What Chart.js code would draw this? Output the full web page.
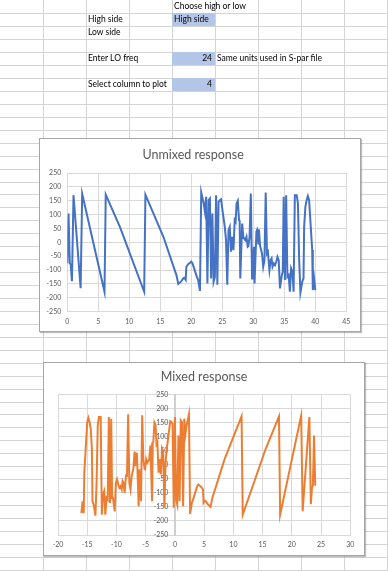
<!DOCTYPE html>
<html lang="en">
<head>
<meta charset="UTF-8">
<title>Unmixed / Mixed response</title>
<script src="https://cdn.jsdelivr.net/npm/chart.js@4.4.1/dist/chart.umd.min.js"></script>
<style>
    body {
        margin: 0;
        width: 388px;
        height: 571px;
        position: relative;
        overflow: hidden;
        background: #fff;
        font-family: Lato, sans-serif;
    }
    #grid { position: absolute; left: 0; top: 0; }
    .cell {
        position: absolute;
        height: 13px;
        line-height: 13px;
        font-size: 8.5px;
        color: #000;
        white-space: nowrap;
    }
    .blue { background: #b4c6e7; }
    .box {
        position: absolute;
        background: #fff;
        border: 1px solid #a6a6a6;
        box-shadow: 1px 1px 1px rgba(0, 0, 0, 0.25);
    }
    .box canvas { display: block; }
</style>
</head>
<body>
<canvas id="grid" width="388" height="571"></canvas>

<div class="cell" style="left:174px; top:0px;">Choose high or low</div>
<div class="cell" style="left:88px; top:13px;">High side</div>
<div class="cell blue" style="left:172px; top:13px; width:43px; padding-left:2px; box-sizing:border-box;">High side</div>
<div class="cell" style="left:88px; top:26px;">Low side</div>
<div class="cell" style="left:88px; top:52px;">Enter LO freq</div>
<div class="cell blue" style="left:172px; top:52px; width:43px; text-align:right; padding-right:3px; box-sizing:border-box;" id="loCell"></div>
<div class="cell" style="left:217px; top:52px;">Same units used in S-par file</div>
<div class="cell" style="left:88px; top:78px;">Select column to plot</div>
<div class="cell blue" style="left:172px; top:78px; width:43px; text-align:right; padding-right:3px; box-sizing:border-box;" id="colCell"></div>

<div class="box" style="left:39px; top:138px;">
    <canvas id="chartRF" width="320" height="192"></canvas>
</div>
<div class="box" style="left:43px; top:362px;">
    <canvas id="chartIF" width="320" height="192"></canvas>
</div>

<script>
    // values
    const loFreq = 24;
    const plotColumn = 4;

    // unmixed (RF) frequency axis
    const rfFreq = [0.0, 0.2, 0.4, 0.55, 0.75, 1.0, 2.15, 2.4, 6.0, 6.2, 8.5, 12.4, 12.6, 15.5,
        17.6, 17.9, 18.4, 18.7, 18.9, 19.1, 19.2, 19.5, 20.0, 20.2, 20.8, 21.1, 21.4, 21.6,
        22.0, 22.2, 22.4, 22.6, 22.8, 23.0, 23.2, 23.4, 23.6, 23.8, 24.0, 24.2, 24.4, 24.6,
        24.8, 25.1, 25.4, 25.6, 25.8, 26.0, 26.2, 26.4, 26.6, 26.8, 27.0, 27.15, 27.3, 27.5,
        27.7, 27.8, 27.9, 28.2, 28.4, 28.7, 28.9, 29.1, 29.2, 29.4, 29.6, 29.8, 29.9, 30.1,
        30.2, 30.5, 30.6, 30.8, 30.9, 31.1, 31.4, 31.6, 31.8, 32.0, 32.2, 32.35, 32.6, 32.8,
        32.95, 33.1, 33.3, 33.5, 33.7, 33.9, 34.1, 34.3, 34.6, 34.75, 34.9, 35.1, 35.3, 35.5,
        35.7, 35.9, 36.1, 36.3, 36.5, 36.7, 37.0, 37.2, 37.4, 37.6, 37.9, 38.1, 38.2, 38.4,
        38.6, 38.8, 39.0, 39.2, 39.5, 39.6, 39.8, 40.0];

    // mixed (IF) frequency axis, same points after the LO
    const ifFreq = [24, 23.8, 23.6, 23.45, 23.25, 23, 21.85, 21.6, 18, 17.8, 15.5, 11.6, 11.4, 8.5,
        6.4, 6.1, 5.6, 5.3, 5.1, 4.9, 4.8, 4.5, 4, 3.8, 3.2, 2.9, 2.6, 2.4,
        2, 1.8, 1.6, 1.4, 1.2, 1, 0.8, 0.6, 0.4, 0.2, 0, -0.2, -0.4, -0.6,
        -0.8, -1.1, -1.4, -1.6, -1.8, -2, -2.2, -2.4, -2.6, -2.8, -3, -3.15, -3.3, -3.5,
        -3.7, -3.8, -3.9, -4.2, -4.4, -4.7, -4.9, -5.1, -5.2, -5.4, -5.6, -5.8, -5.9, -6.1,
        -6.2, -6.5, -6.6, -6.8, -6.9, -7.1, -7.4, -7.6, -7.8, -8, -8.2, -8.35, -8.6, -8.8,
        -8.95, -9.1, -9.3, -9.5, -9.7, -9.9, -10.1, -10.3, -10.6, -10.75, -10.9, -11.1, -11.3, -11.5,
        -11.7, -11.9, -12.1, -12.3, -12.5, -12.7, -13, -13.2, -13.4, -13.6, -13.9, -14.1, -14.2, -14.4,
        -14.6, -14.8, -15, -15.2, -15.5, -15.6, -15.8, -16];

    // column 4 of the S-par file
    const response = [-75, 104, -75, -80, -140, 170, -165, 175, -178, 172, 55, -178, 172, 20,
        -118, -150, -140, -130, -128, -135, -88, -79, -70, -76, -118, -136, -175, 180,
        140, 110, 164, -148, 152, 158, -130, 104, -142, -125, 170, -153, 146, 152,
        155, 104, 56, 8, -153, 44, 56, -34, 20, -28, 80, 74, 140, 150,
        80, 78, -130, 68, 18, 8, 20, -16, -14, 20, 176, -130, -82, -16,
        -148, 38, 44, -4, 47, -13, -40, -88, -64, 180, -40, -34, -100, -64,
        -58, -88, -76, -82, -70, -52, -64, -166, -118, -106, 164, -136, 170, -124,
        -118, -178, -94, -106, -178, 170, 170, 140, -64, -181, -142, -130, 56, 128,
        152, 167, 152, 80, -28, -172, -130, -172];

    const rfTicks = { min: 0, max: 45, step: 5 };
    const ifTicks = { min: -20, max: 30, step: 5 };
    const respTicks = { min: -250, max: 250, step: 50 };

    document.getElementById('loCell').textContent = loFreq;
    document.getElementById('colCell').textContent = plotColumn;

    // spreadsheet grid behind the charts
    function gambarGrid() {
        const g = document.getElementById('grid').getContext('2d');
        g.strokeStyle = '#d4d4d4';
        g.lineWidth = 1;
        g.beginPath();
        for (let k = 0; k < 9; k++) {
            const x = Math.round(43.3 + 42.93 * k) + 0.5;
            g.moveTo(x, 0); g.lineTo(x, 571);
        }
        for (let k = 0; k < 45; k++) {
            const y = Math.round(13.3 + 12.94 * k) + 0.5;
            g.moveTo(0, y); g.lineTo(388, y);
        }
        g.stroke();
    }
    gambarGrid();

    function toPoints(xs, ys) {
        return xs.map((x, i) => ({ x: x, y: ys[i] }));
    }

    Chart.defaults.font.family = 'Lato, sans-serif';
    Chart.defaults.color = '#595959';

    const tickFont = { size: 7 };
    const gridColor = '#d9d9d9';

    // y labels of the mixed chart hug the zero line (left side), under the trace
    const labelDiSumbuNol = {
        id: 'labelDiSumbuNol',
        beforeDatasetsDraw(chart) {
            const ys = chart.scales.y;
            const x0 = chart.scales.x.getPixelForValue(0) - 6.5;
            const ctx = chart.ctx;
            ctx.save();
            ctx.font = '7px Lato, sans-serif';
            ctx.fillStyle = '#595959';
            ctx.textAlign = 'right';
            ctx.textBaseline = 'middle';
            ys.ticks.forEach(t => {
                ctx.fillText(String(t.value), x0, ys.getPixelForValue(t.value));
            });
            ctx.restore();
        }
    };

    new Chart(document.getElementById('chartRF'), {
        type: 'line',
        data: {
            datasets: [{
                label: 'Unmixed',
                data: toPoints(rfFreq, response),
                borderColor: '#4472c4',
                borderWidth: 2,
                pointRadius: 0,
                tension: 0,
                fill: false
            }]
        },
        options: {
            responsive: false,
            animation: false,
            layout: { padding: { left: 0, right: 13.7, top: 0, bottom: 0 } },
            plugins: {
                legend: { display: false },
                tooltip: { enabled: false },
                title: {
                    display: true,
                    text: 'Unmixed response',
                    color: '#595959',
                    font: { size: 12.5, weight: 'normal' },
                    padding: { top: 8, bottom: 11 }
                }
            },
            scales: {
                x: {
                    type: 'linear',
                    min: rfTicks.min, max: rfTicks.max,
                    ticks: { stepSize: rfTicks.step, font: tickFont, padding: 6, maxRotation: 0 },
                    grid: { color: gridColor, drawTicks: false },
                    border: { color: gridColor },
                    afterFit: s => { s.height = 19.3; }
                },
                y: {
                    min: respTicks.min, max: respTicks.max,
                    ticks: { stepSize: respTicks.step, font: tickFont, padding: 6 },
                    grid: { color: gridColor, drawTicks: false },
                    border: { color: gridColor },
                    afterFit: s => { s.width = 27.3; }
                }
            }
        }
    });

    new Chart(document.getElementById('chartIF'), {
        type: 'line',
        data: {
            datasets: [{
                label: 'Mixed',
                data: toPoints(ifFreq, response),
                borderColor: '#ed7d31',
                borderWidth: 2,
                pointRadius: 0,
                tension: 0,
                fill: false
            }]
        },
        options: {
            responsive: false,
            animation: false,
            layout: { padding: { left: 14, right: 13.7, top: 0, bottom: 0 } },
            plugins: {
                legend: { display: false },
                tooltip: { enabled: false },
                title: {
                    display: true,
                    text: 'Mixed response',
                    color: '#595959',
                    font: { size: 12.5, weight: 'normal' },
                    padding: { top: 6.5, bottom: 10 }
                }
            },
            scales: {
                x: {
                    type: 'linear',
                    min: ifTicks.min, max: ifTicks.max,
                    ticks: { stepSize: ifTicks.step, font: tickFont, padding: 6, maxRotation: 0 },
                    grid: { color: gridColor, drawTicks: false },
                    border: { color: gridColor },
                    afterFit: s => { s.height = 20; }
                },
                y: {
                    position: { x: 0 },
                    min: respTicks.min, max: respTicks.max,
                    ticks: { stepSize: respTicks.step, display: false },
                    grid: { color: gridColor, drawTicks: false },
                    border: { color: '#cfcfcf', width: 2 }
                }
            }
        },
        plugins: [labelDiSumbuNol]
    });
</script>
</body>
</html>
